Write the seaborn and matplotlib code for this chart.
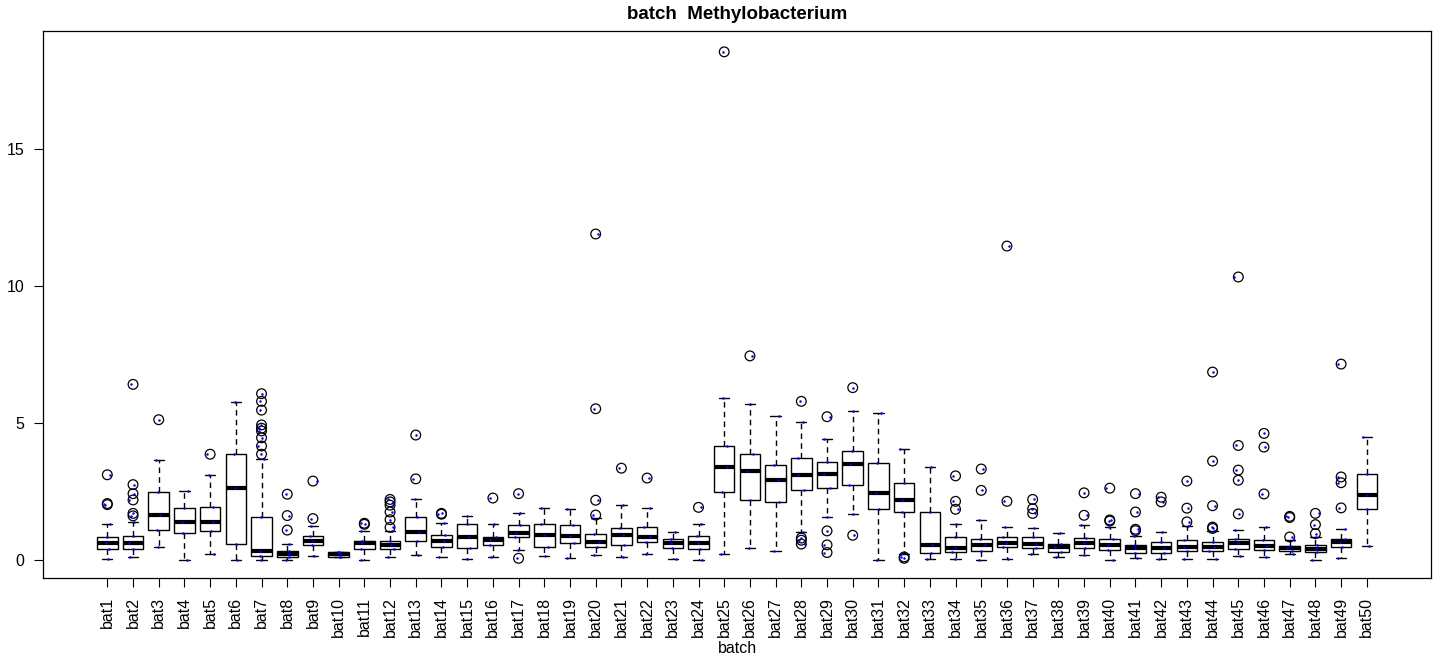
import numpy as np
import pandas as pd
import matplotlib
matplotlib.use("Agg")
import matplotlib.pyplot as plt
import seaborn as sns

# Batch labels
batches = [f"bat{i}" for i in range(1, 51)]

# Five-number summaries per batch (lower whisker, Q1, median, Q3, upper whisker)
whisker_low = [0.05, 0.12, 0.49, 0.01, 0.21, 0.00, 0.00, 0.00, 0.13, 0.10,
               0.00, 0.11, 0.19, 0.11, 0.02, 0.09, 0.35, 0.16, 0.06, 0.18,
               0.09, 0.23, 0.05, 0.01, 0.22, 0.43, 0.32, 1.03, 1.56, 1.68,
               0.01, 0.23, 0.02, 0.02, 0.00, 0.05, 0.23, 0.11, 0.17, 0.00,
               0.06, 0.05, 0.05, 0.02, 0.13, 0.11, 0.21, 0.00, 0.07, 0.50]
q1 = [0.39, 0.41, 1.09, 0.97, 1.07, 0.57, 0.13, 0.11, 0.56, 0.12,
      0.39, 0.39, 0.71, 0.49, 0.44, 0.54, 0.82, 0.46, 0.63, 0.49,
      0.54, 0.67, 0.45, 0.41, 2.47, 2.20, 2.10, 2.55, 2.64, 2.75,
      1.87, 1.74, 0.27, 0.30, 0.32, 0.49, 0.45, 0.28, 0.43, 0.36,
      0.24, 0.24, 0.32, 0.32, 0.39, 0.35, 0.34, 0.29, 0.49, 1.85]
median = [0.63, 0.61, 1.65, 1.37, 1.37, 2.62, 0.32, 0.21, 0.69, 0.20,
          0.63, 0.54, 1.03, 0.69, 0.85, 0.72, 0.97, 0.91, 0.88, 0.66,
          0.90, 0.84, 0.61, 0.62, 3.38, 3.25, 2.92, 3.10, 3.13, 3.50,
          2.45, 2.20, 0.55, 0.44, 0.54, 0.63, 0.60, 0.46, 0.63, 0.55,
          0.43, 0.44, 0.49, 0.47, 0.61, 0.52, 0.43, 0.41, 0.64, 2.36]
q3 = [0.85, 0.88, 2.48, 1.90, 1.93, 3.87, 1.57, 0.34, 0.88, 0.28,
      0.69, 0.71, 1.58, 0.90, 1.31, 0.85, 1.29, 1.30, 1.27, 0.94,
      1.16, 1.22, 0.78, 0.88, 4.16, 3.88, 3.47, 3.71, 3.59, 3.97,
      3.53, 2.82, 1.76, 0.83, 0.78, 0.84, 0.83, 0.60, 0.79, 0.77,
      0.56, 0.64, 0.72, 0.64, 0.77, 0.73, 0.51, 0.55, 0.78, 3.13]
whisker_high = [1.31, 1.37, 3.65, 2.52, 3.11, 5.75, 3.67, 0.60, 1.25, 0.30,
                1.07, 1.07, 2.24, 1.34, 1.61, 1.30, 1.73, 1.90, 1.85, 1.53,
                2.00, 1.89, 1.02, 1.31, 5.92, 5.68, 5.26, 5.05, 4.42, 5.43,
                5.35, 4.04, 3.39, 1.31, 1.45, 1.20, 1.16, 0.97, 1.28, 1.22,
                0.88, 1.02, 1.24, 1.07, 1.11, 1.20, 0.72, 0.85, 1.13, 4.50]

# Outlying observations per batch
outliers = [
    [3.11, 2.06, 2.02], [6.41, 2.75, 2.42, 2.19, 1.70, 1.61], [5.12], [], [3.86],
    [], [6.07, 5.79, 5.47, 4.93, 4.81, 4.71, 4.46, 4.16, 3.86], [2.40, 1.62, 1.09],
    [2.88, 1.51], [],
    [1.34, 1.30], [2.21, 2.12, 2.00, 1.75, 1.47, 1.19], [4.56, 2.96], [1.70, 1.67], [],
    [2.26], [2.42, 0.06], [], [], [11.90, 5.52, 2.18, 1.64],
    [3.35], [2.99], [], [1.92], [18.55],
    [7.45], [], [5.79, 0.80, 0.72, 0.58], [5.23, 1.06, 0.55, 0.27], [6.29, 0.90],
    [], [0.11, 0.06], [], [3.07, 2.14, 1.85], [3.32, 2.54],
    [11.46, 2.14], [2.21, 1.87, 1.70], [], [2.45, 1.63], [2.62, 1.46, 1.42],
    [2.42, 1.75, 1.12, 1.07], [2.29, 2.12], [2.88, 1.89, 1.39],
    [6.86, 3.61, 1.98, 1.20, 1.15], [10.33, 4.18, 3.28, 2.91, 1.68],
    [4.62, 4.12, 2.41], [1.59, 1.55, 0.84], [1.70, 1.29, 0.96],
    [7.15, 3.03, 2.82, 1.90], [],
]

# Long-form tables
body_rows = []
for b, lo, a, m, c, hi in zip(batches, whisker_low, q1, median, q3, whisker_high):
    for v in (lo, a, m, c, hi):
        body_rows.append((b, v))
body = pd.DataFrame(body_rows, columns=["batch", "value"])

out_rows = [(b, v) for b, vals in zip(batches, outliers) for v in vals]
out = pd.DataFrame(out_rows, columns=["batch", "value"])
points = pd.concat([body, out], ignore_index=True)

sns.set_style("ticks")
plt.rcParams["font.family"] = ["Liberation Sans", "DejaVu Sans"]
plt.rcParams.update({
    "text.color": "black",
    "axes.labelcolor": "black",
    "xtick.color": "black",
    "ytick.color": "black",
    "axes.edgecolor": "black",
})

fig = plt.figure(figsize=(14.4, 6.57), dpi=100)
ax = fig.add_axes([0.0299, 0.1202, 0.9639, 0.8326])

sns.boxplot(
    data=body, x="batch", y="value", order=batches, ax=ax,
    color="white", linecolor="black", linewidth=1.0, width=0.8,
    whis=(0, 100), showfliers=False,
    medianprops=dict(linewidth=3.0, color="black", solid_capstyle="butt"),
    whiskerprops=dict(linestyle=(0, (4, 3)), linewidth=1.0),
    capprops=dict(linewidth=1.0),
)

# Outlier circles
sns.stripplot(
    data=out, x="batch", y="value", order=batches, ax=ax,
    jitter=False, marker="o", size=7.0, facecolors="none",
    edgecolor="black", linewidth=0.9, color="black", zorder=3,
)

# Individual observations
np.random.seed(3)
sns.stripplot(
    data=points, x="batch", y="value", order=batches, ax=ax,
    jitter=0.15, size=1.8, color="#0000ff", linewidth=0, zorder=4,
)

ax.set_xlim(-2.5, 51.5)
ax.set_ylim(-0.66, 19.31)
ax.set_yticks([0, 5, 10, 15])
ax.set_yticklabels(["0", "5", "10", "15"])
ax.tick_params(axis="x", rotation=90, labelsize=11.5, length=6.5, width=0.8,
               pad=7, colors="black")
ax.tick_params(axis="y", labelsize=11.5, length=6.5, width=0.8, pad=7,
               colors="black")
for lab in ax.get_xticklabels():
    lab.set_verticalalignment("top")
ax.set_ylabel("")
ax.set_xlabel("batch", fontsize=11.5, labelpad=3, color="black")
ax.set_title("batch  Methylobacterium", fontsize=13.5, fontweight="bold",
             pad=9, color="black")
for s in ax.spines.values():
    s.set_visible(True)
    s.set_linewidth(0.9)
    s.set_color("black")

fig.savefig("out.png", dpi=100)
